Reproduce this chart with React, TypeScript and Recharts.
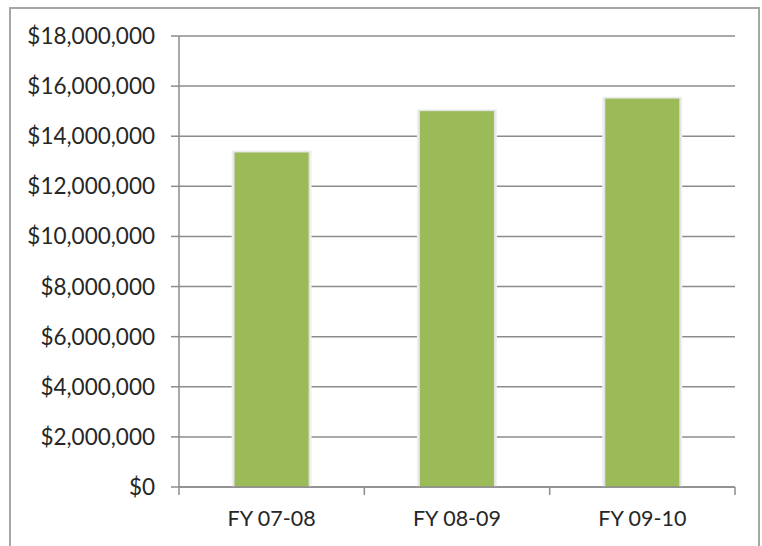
import React from "react";
import { BarChart, Bar, XAxis, YAxis, CartesianGrid } from "recharts";

const categories = ["FY 07-08", "FY 08-09", "FY 09-10"];
const amounts = [13350000, 15000000, 15500000];
const yTicks = [0, 2000000, 4000000, 6000000, 8000000, 10000000, 12000000, 14000000, 16000000, 18000000];

const data = categories.map((name, i) => ({ name, amount: amounts[i] }));

const FONT = "Lato, 'Open Sans', sans-serif";
const TEXT = "#262626";
const LINE = "#8c8c8c";
const TICK_SIZE = 8;
const TICK_MARGIN = 16;

const fmtMoney = (v: number) => "$" + v.toLocaleString("en-US");

// x tick: label at the centre, tick marks on the category boundaries
function XTick(props: any) {
  const { x, y, payload, index, width, visibleTicksCount } = props;
  const half = width / visibleTicksCount / 2;
  const top = y - TICK_SIZE - TICK_MARGIN;
  return (
    <g>
      <line x1={x - half} x2={x - half} y1={top} y2={top + TICK_SIZE} stroke={LINE} strokeWidth={1.5} />
      {index === visibleTicksCount - 1 && (
        <line x1={x + half} x2={x + half} y1={top} y2={top + TICK_SIZE} stroke={LINE} strokeWidth={1.5} />
      )}
      <text x={x} y={y} dy="0.71em" textAnchor="middle" fill={TEXT} fontSize={21.5} fontFamily={FONT}>
        {payload.value}
      </text>
    </g>
  );
}

function GlowBar(props: any) {
  const { x, y, width, height, fill } = props;
  if (!height) return null;
  return (
    <g>
      <rect x={x - 3} y={y - 2} width={width + 6} height={height + 2} fill="#f1f1f1" />
      <rect x={x - 1.5} y={y - 1} width={width + 3} height={height + 1} fill="#e2e2e2" />
      <rect x={x} y={y} width={width} height={height} fill={fill} />
    </g>
  );
}

export default function App() {
  return (
    <div style={{ position: "absolute", left: 0, top: 0, width: 762, height: 546, background: "#fff", overflow: "hidden" }}>
      <div
        style={{
          position: "absolute",
          left: 9,
          top: 7,
          width: 751,
          height: 560,
          border: "2px solid #a6a6a6",
          boxSizing: "border-box",
        }}
      />
      <div style={{ position: "absolute", left: 0, top: 0 }}>
        <BarChart
          width={762}
          height={546}
          data={data}
          margin={{ top: 36, right: 27, left: 0, bottom: 0 }}
          barCategoryGap="30%"
        >
          <CartesianGrid vertical={false} stroke={LINE} strokeWidth={1.5} />
          <XAxis
            dataKey="name"
            height={59}
            axisLine={{ stroke: LINE, strokeWidth: 1.5 }}
            tickLine={false}
            tickSize={TICK_SIZE}
            tickMargin={TICK_MARGIN}
            interval={0}
            tick={<XTick />}
          />
          <YAxis
            width={179}
            domain={[0, 18000000]}
            ticks={yTicks}
            interval={0}
            axisLine={{ stroke: LINE, strokeWidth: 1.5 }}
            tickLine={{ stroke: LINE, strokeWidth: 1.5 }}
            tickSize={TICK_SIZE}
            tickMargin={TICK_MARGIN}
            tickFormatter={fmtMoney}
            tick={{ fill: TEXT, fontSize: 22.5, fontFamily: FONT }}
          />
          <Bar dataKey="amount" fill="#9bbb59" shape={<GlowBar />} isAnimationActive={false} />
        </BarChart>
      </div>
    </div>
  );
}
